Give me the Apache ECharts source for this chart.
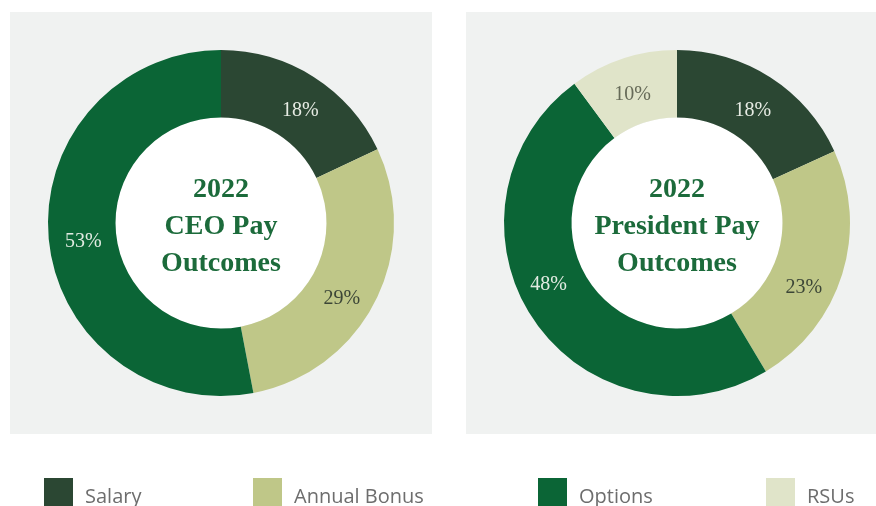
<!DOCTYPE html>
<html>
<head>
<meta charset="utf-8">
<script src="https://cdn.jsdelivr.net/npm/echarts@6/dist/echarts.min.js"></script>
<style>
  html, body { margin: 0; padding: 0; background: #fff; }
  #chart { width: 876px; height: 506px; }
</style>
</head>
<body>
<div id="chart"></div>
<script>
(function() {
  var categories = ['Salary', 'Annual Bonus', 'Options', 'RSUs'];
  var ceoValues = [18, 29, 53];
  var presidentValues = [18, 23, 48, 10];
  var ceoTitle = '2022\nCEO Pay\nOutcomes';
  var presidentTitle = '2022\nPresident Pay\nOutcomes';

  var colors = ['#2b4733', '#bfc788', '#0b6536', '#e0e4c9'];
  var labelColors = ['#e6ebe3', '#3c4637', '#e2ebe2', '#666a58'];
  var panel = '#f0f2f1';
  var serif = '"Liberation Serif", "DejaVu Serif", serif';

  // small nudges so the percent labels sit where the original put them
  var ceoNudge = [[3, 8], [-6, 11], [4, 5]];
  var presidentNudge = [[-1, 7], [-9, 23], [-10, -17], [0, 7]];

  function sliceData(values, nudge) {
    return values.map(function(v, i) {
      return {
        name: categories[i],
        value: v,
        itemStyle: { color: colors[i] },
        label: { color: labelColors[i], offset: nudge[i] }
      };
    });
  }

  function ring(center, values, nudge) {
    return {
      type: 'pie',
      center: center,
      radius: [105.5, 173],
      startAngle: 90,
      clockwise: true,
      avoidLabelOverlap: false,
      silent: true,
      itemStyle: { borderWidth: 0 },
      label: {
        show: true,
        position: 'inside',
        formatter: '{c}%',
        fontFamily: serif,
        fontSize: 20
      },
      labelLine: { show: false },
      data: sliceData(values, nudge),
      z: 3
    };
  }

  function hub(center, title) {
    return {
      type: 'pie',
      center: center,
      radius: [0, 105.5],
      silent: true,
      legendHoverLink: false,
      itemStyle: { color: '#ffffff' },
      label: {
        show: true,
        position: 'center',
        formatter: title,
        fontFamily: serif,
        fontWeight: 'bold',
        fontSize: 28,
        lineHeight: 37,
        offset: [0, 4],
        color: '#1c6b3b'
      },
      labelLine: { show: false },
      data: [{ name: 'hub', value: 1 }],
      z: 2
    };
  }

  function legendItem(name, left) {
    return {
      data: [name],
      left: left,
      top: 478,
      padding: 0,
      icon: 'rect',
      itemWidth: 29,
      itemHeight: 29,
      selectedMode: false,
      formatter: '{t|{name}}',
      textStyle: {
        rich: {
          t: {
            fontFamily: '"Open Sans", sans-serif',
            fontSize: 20,
            color: '#6d6d6d',
            padding: [10, 0, 0, 7]
          }
        }
      }
    };
  }

  var chart = echarts.init(document.getElementById('chart'), null, { renderer: 'canvas' });
  chart.setOption({
    animation: false,
    graphic: [
      { type: 'rect', left: 10, top: 12, shape: { width: 422, height: 422 }, style: { fill: panel }, z: 0 },
      { type: 'rect', left: 466, top: 12, shape: { width: 410, height: 422 }, style: { fill: panel }, z: 0 }
    ],
    legend: [
      legendItem(categories[0], 44),
      legendItem(categories[1], 253),
      legendItem(categories[2], 538),
      legendItem(categories[3], 766)
    ],
    series: [
      hub([221, 223], ceoTitle),
      ring([221, 223], ceoValues, ceoNudge),
      hub([677, 223], presidentTitle),
      ring([677, 223], presidentValues, presidentNudge)
    ]
  });
  window.addEventListener('resize', function() { chart.resize(); });
})();
</script>
</body>
</html>
